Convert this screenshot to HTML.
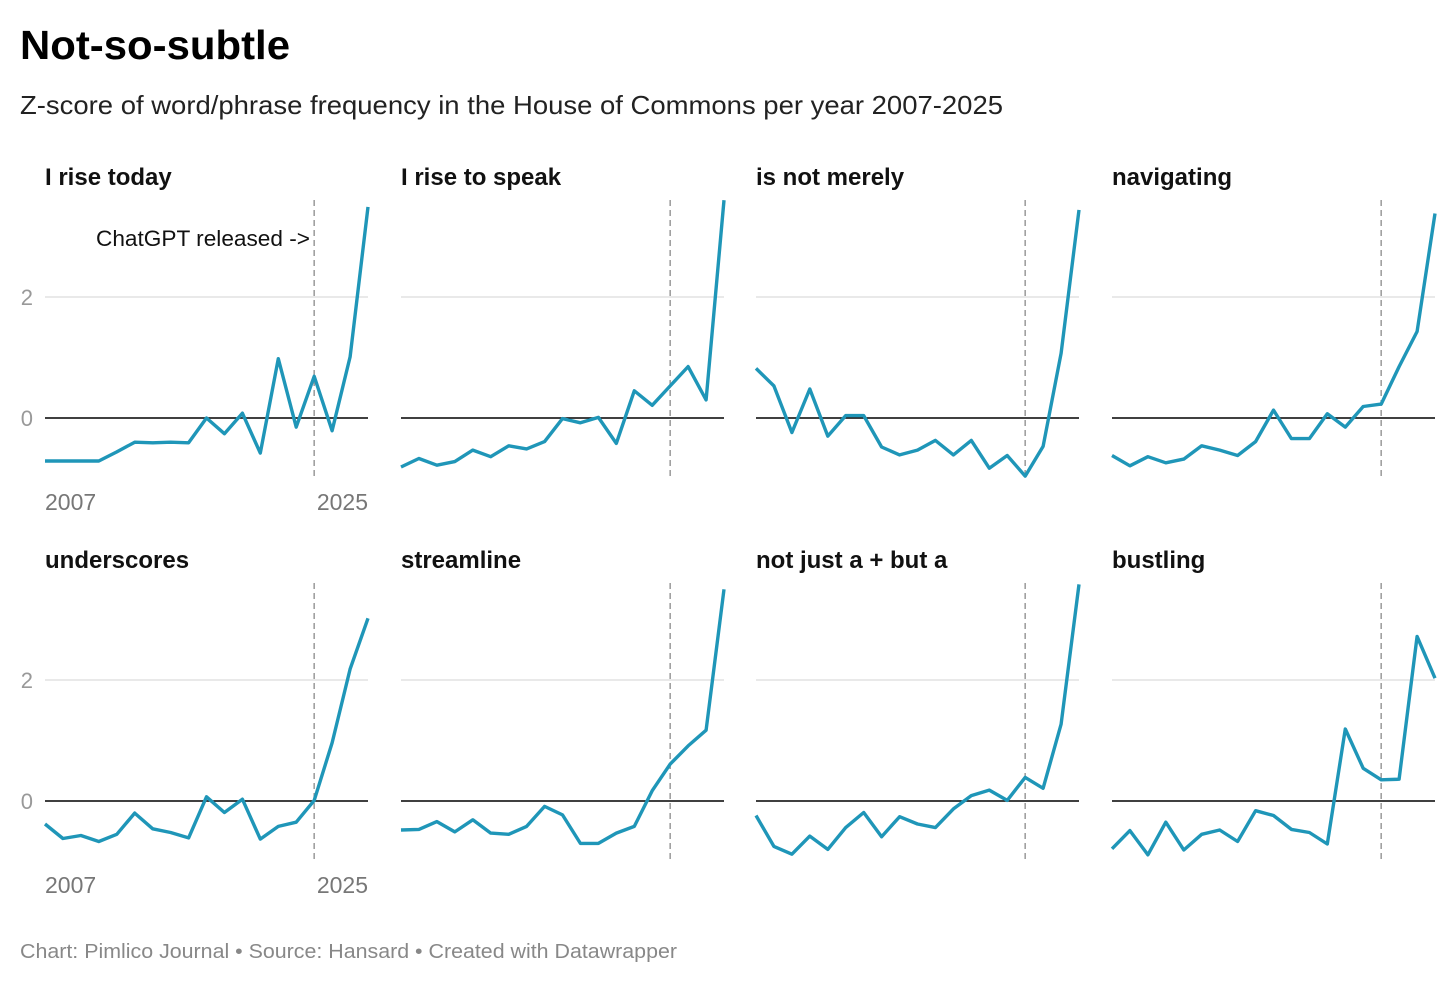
<!DOCTYPE html>
<html><head><meta charset="utf-8">
<style>
html,body{margin:0;padding:0;background:#fff;}
body{width:1456px;height:984px;overflow:hidden;font-family:"Liberation Sans",sans-serif;}
</style></head>
<body>
<svg id="chart" width="1456" height="984" xmlns="http://www.w3.org/2000/svg">
<text x="20" y="59" font-size="41" font-weight="bold" fill="#000" textLength="270" lengthAdjust="spacingAndGlyphs">Not-so-subtle</text>
<text x="20" y="114" font-size="26" fill="#222" textLength="983" lengthAdjust="spacingAndGlyphs">Z-score of word/phrase frequency in the House of Commons per year 2007-2025</text>
<text x="20" y="958" font-size="20" fill="#888" textLength="657" lengthAdjust="spacingAndGlyphs">Chart: Pimlico Journal • Source: Hansard • Created with Datawrapper</text>
<g id="panels"></g>
</svg>
<script>
const years = [2007,2008,2009,2010,2011,2012,2013,2014,2015,2016,2017,2018,2019,2020,2021,2022,2023,2024,2025];
const titles = ["I rise today","I rise to speak","is not merely","navigating","underscores","streamline","not just a + but a","bustling"];
const s1 = [-0.71,-0.71,-0.71,-0.71,-0.56,-0.40,-0.41,-0.40,-0.41,0,-0.26,0.08,-0.58,0.98,-0.15,0.69,-0.21,1.01,3.49];
const s2 = [-0.81,-0.67,-0.78,-0.72,-0.53,-0.64,-0.46,-0.51,-0.39,-0.01,-0.08,0.01,-0.42,0.45,0.21,0.53,0.85,0.30,3.60];
const s3 = [0.82,0.53,-0.24,0.48,-0.30,0.04,0.04,-0.48,-0.61,-0.53,-0.37,-0.61,-0.37,-0.83,-0.62,-0.96,-0.47,1.07,3.44];
const s4 = [-0.62,-0.79,-0.64,-0.74,-0.68,-0.46,-0.53,-0.62,-0.39,0.13,-0.34,-0.34,0.07,-0.15,0.19,0.23,0.85,1.43,3.38];
const s5 = [-0.38,-0.62,-0.57,-0.67,-0.55,-0.20,-0.46,-0.52,-0.61,0.07,-0.19,0.03,-0.63,-0.42,-0.35,0.01,0.96,2.18,3.02];
const s6 = [-0.48,-0.47,-0.34,-0.51,-0.31,-0.53,-0.55,-0.42,-0.09,-0.23,-0.70,-0.70,-0.53,-0.42,0.17,0.61,0.91,1.17,3.50];
const s7 = [-0.24,-0.75,-0.88,-0.58,-0.80,-0.44,-0.19,-0.59,-0.26,-0.38,-0.44,-0.13,0.09,0.18,0.01,0.39,0.21,1.27,3.58];
const s8 = [-0.79,-0.49,-0.89,-0.35,-0.81,-0.55,-0.48,-0.67,-0.16,-0.24,-0.47,-0.52,-0.71,1.19,0.54,0.35,0.36,2.72,2.03];
const series = [s1,s2,s3,s4,s5,s6,s7,s8];
const yTicks = [0,2];
const xTickLabels = ["2007","2025"];
const releaseYear = 2022;

const NS = "http://www.w3.org/2000/svg";
const root = document.getElementById("panels");
const colX = [45,401,756,1112];
const rowZero = [418,801];
const W = 323, unit = 60.5;
function mk(tag, attrs, parent){const e=document.createElementNS(NS,tag);for(const k in attrs)e.setAttribute(k,attrs[k]);parent.appendChild(e);return e;}

series.forEach((vals, i) => {
  const x0 = colX[i%4], z = rowZero[Math.floor(i/4)];
  const xs = y => x0 + (y - years[0]) / (years[years.length-1] - years[0]) * W;
  const ys = v => z - v * unit;
  const g = mk("g", {}, root);
  
  
  const t = mk("text", {x:x0, y:z-233, "font-size":24, "font-weight":"bold", fill:"#111"}, g);
  t.textContent = titles[i];
  
  
  yTicks.forEach(v => {
    const l = mk("line", {x1:x0, x2:x0+W, y1:ys(v), y2:ys(v), stroke: v===0?"#000":"#e2e2e2", "stroke-width": v===0?1.6:1.5}, g);
    
    
    if (i%4===0) {
      const lt = mk("text", {x:33, y:ys(v)+8, "font-size":22, fill:"#999", "text-anchor":"end"}, g);
      lt.textContent = v;
      
      
    }
  });
  const dx = xs(releaseYear);
  const d = mk("line", {x1:dx, x2:dx, y1:z-218, y2:z+58, stroke:"#999", "stroke-width":1.5, "stroke-dasharray":"6,4"}, g);
  
  
  if (i===0) {
    const a = mk("text", {x:96, y:z-172, "font-size":22, fill:"#111", textLength:214, lengthAdjust:"spacingAndGlyphs"}, g);
    a.textContent = "ChatGPT released ->";
    
    
  }
  if (i%4===0) {
    const a1 = mk("text", {x:x0, y:z+92, "font-size":23, fill:"#777"}, g);
    a1.textContent = xTickLabels[0];
    
    
    const a2 = mk("text", {x:x0+W, y:z+92, "font-size":23, fill:"#777", "text-anchor":"end"}, g);
    a2.textContent = xTickLabels[1];
    
    
  }
  const p = mk("polyline", {points: vals.map((v,j)=>xs(years[j]).toFixed(1)+","+ys(v).toFixed(1)).join(" "), fill:"none", stroke:"#1f96b8", "stroke-width":3.4, "stroke-linejoin":"round"}, g);
  
  
});
</script>
</body></html>
